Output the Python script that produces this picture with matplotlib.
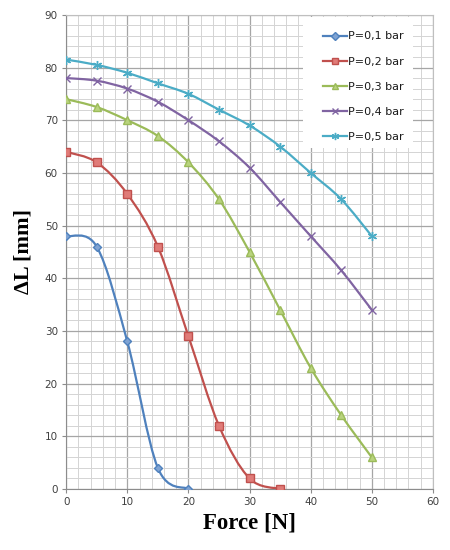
import numpy as np
import matplotlib
matplotlib.use("Agg")
import matplotlib.pyplot as plt
from matplotlib.path import Path
from matplotlib.patches import PathPatch, Rectangle
from matplotlib.lines import Line2D

force_01 = [0, 5, 10, 15, 20]
dl_01 = [48, 46, 28, 4, 0]
force_02 = [0, 5, 10, 15, 20, 25, 30, 35]
dl_02 = [64, 62, 56, 46, 29, 12, 2, 0]
force_03 = [0, 5, 10, 15, 20, 25, 30, 35, 40, 45, 50]
dl_03 = [74, 72.5, 70, 67, 62, 55, 45, 34, 23, 14, 6]
force_04 = [0, 5, 10, 15, 20, 25, 30, 35, 40, 45, 50]
dl_04 = [78, 77.5, 76, 73.5, 70, 66, 61, 54.5, 48, 41.5, 34]
force_05 = [0, 5, 10, 15, 20, 25, 30, 35, 40, 45, 50]
dl_05 = [81.5, 80.5, 79, 77, 75, 72, 69, 65, 60, 55, 48]
labels = ["P=0,1 bar", "P=0,2 bar", "P=0,3 bar", "P=0,4 bar", "P=0,5 bar"]
x_ticks = [0, 10, 20, 30, 40, 50, 60]
y_ticks = [0, 10, 20, 30, 40, 50, 60, 70, 80, 90]

series = [(force_01, dl_01), (force_02, dl_02), (force_03, dl_03),
          (force_04, dl_04), (force_05, dl_05)]
colors = ["#4F81BD", "#C0504D", "#9BBB59", "#8064A2", "#4BACC6"]
mfc = ["#7FA3D3", "#E07B78", "#B9D37E", "#9E88BD", "#7CCBE0"]
markers = ["D", "s", "^", "x", (6, 2, 0)]
msizes = [4.5, 6, 5.5, 5.5, 6.5]


def smooth_path(xs, ys):
    pts = np.column_stack([xs, ys]).astype(float)
    n = len(pts)
    verts = [pts[0]]
    codes = [Path.MOVETO]
    for i in range(n - 1):
        p0 = pts[i - 1] if i > 0 else pts[i]
        p1 = pts[i]
        p2 = pts[i + 1]
        p3 = pts[i + 2] if i + 2 < n else pts[i + 1]
        c1 = p1 + (p2 - p0) / 6.0
        c2 = p2 - (p3 - p1) / 6.0
        verts += [c1, c2, p2]
        codes += [Path.CURVE4] * 3
    return Path(verts, codes)


fig = plt.figure(figsize=(4.5, 5.5), dpi=100)
ax = fig.add_axes([0.147, 0.111, 0.815, 0.862])

ax.set_xlim(0, 60)
ax.set_ylim(0, 90)
ax.set_xticks(x_ticks)
ax.set_yticks(y_ticks)
ax.set_xticks(np.arange(0, 61, 2), minor=True)
ax.set_yticks(np.arange(0, 91, 2), minor=True)
ax.grid(which="major", color="#A6A6A6", linewidth=0.9)
ax.grid(which="minor", color="#D4D4D4", linewidth=0.7)
ax.set_axisbelow(True)
ax.tick_params(which="minor", length=0)
ax.tick_params(which="major", length=3, color="#8C8C8C", labelsize=7.5,
               labelcolor="#404040", pad=3)
for s in ax.spines.values():
    s.set_color("#BFBFBF")
    s.set_linewidth(0.8)
ax.spines["left"].set_color("#8C8C8C")
ax.spines["bottom"].set_color("#8C8C8C")

# legend background box
ax.add_patch(Rectangle((0.646, 0.719), 0.300, 0.277, transform=ax.transAxes,
                       facecolor="white", edgecolor="none", zorder=2))

handles = []
for (xs, ys), c, fc, m, ms, lab in zip(series, colors, mfc, markers, msizes, labels):
    patch = PathPatch(smooth_path(xs, ys), facecolor="none", edgecolor=c,
                      linewidth=1.6, zorder=3)
    ax.add_patch(patch)
    ax.plot(xs, ys, linestyle="none", marker=m, markersize=ms,
            markerfacecolor=fc, markeredgecolor=c, markeredgewidth=1.0,
            zorder=4)
    handles.append(Line2D([], [], color=c, linewidth=1.6, marker=m,
                          markersize=ms * 0.8, markerfacecolor=fc,
                          markeredgecolor=c, label=lab))

leg = ax.legend(handles=handles, loc="upper left",
                bbox_to_anchor=(0.700, 0.965), frameon=False, fontsize=8,
                handlelength=2.15, handletextpad=0.15, labelspacing=1.36,
                borderpad=0.0, borderaxespad=0.0)
leg.set_zorder(5)
for t in leg.get_texts():
    t.set_color("#1A1A1A")

ax.set_ylabel("ΔL [mm]", family="Liberation Serif", fontweight="bold",
              fontsize=16, labelpad=8)
ax.set_xlabel("Force [N]", family="Liberation Serif", fontweight="bold",
              fontsize=16.5, labelpad=4)

fig.savefig("out.png", dpi=100, facecolor="white")
